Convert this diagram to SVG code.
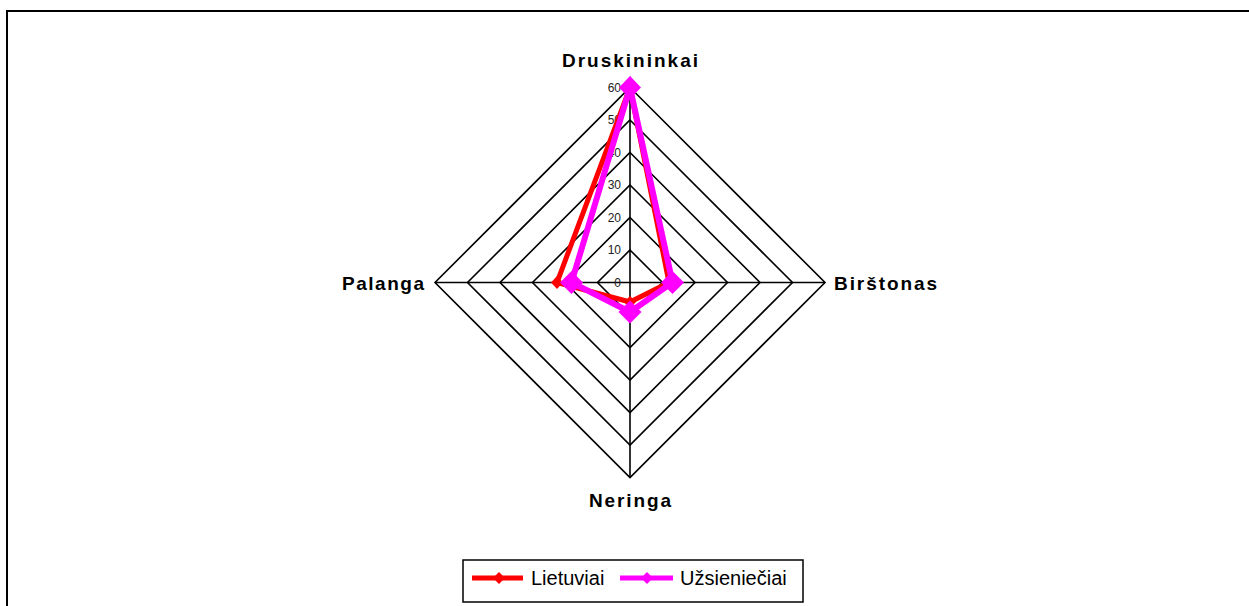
<svg xmlns="http://www.w3.org/2000/svg" width="1249" height="606" viewBox="0 0 1249 606">
<style>
.grid{fill:none;stroke:#000;stroke-width:1.6}
.tick{font-family:"Liberation Sans",Arial,sans-serif;font-size:12px;fill:#222;text-anchor:end}
.cat{font-family:"Liberation Sans",Arial,sans-serif;font-size:19px;font-weight:bold;fill:#000}
.leg{font-family:"Liberation Sans",Arial,sans-serif;font-size:20px;fill:#000}
.red{fill:none;stroke:#ff0000;stroke-width:5;stroke-linejoin:miter}
.mag{fill:none;stroke:#ff00ff;stroke-width:6;stroke-linejoin:miter}
</style>
<rect width="1249" height="606" fill="#fff"/>
<path d="M7,606 V11 H1249" fill="none" stroke="#000" stroke-width="2"/>
<g id="grid">
<polygon class="grid" points="630,87.5 825,282.5 630,477.5 435,282.5"/>
<polygon class="grid" points="630,120 792.5,282.5 630,445 467.5,282.5"/>
<polygon class="grid" points="630,152.5 760,282.5 630,412.5 500,282.5"/>
<polygon class="grid" points="630,185 727.5,282.5 630,380 532.5,282.5"/>
<polygon class="grid" points="630,217.5 695,282.5 630,347.5 565,282.5"/>
<polygon class="grid" points="630,250 662.5,282.5 630,315 597.5,282.5"/>
<path class="grid" d="M630,87.5 V477.5 M435,282.5 H825"/>
</g>
<g id="ticks">
<text class="tick" x="621" y="91.5">60</text>
<text class="tick" x="621" y="124">50</text>
<text class="tick" x="621" y="156.5">40</text>
<text class="tick" x="621" y="189">30</text>
<text class="tick" x="621" y="221.5">20</text>
<text class="tick" x="621" y="254">10</text>
<text class="tick" x="621" y="286.5">0</text>
</g>
<g id="labels">
<text id="druskininkai" class="cat" x="562" y="67" textLength="136" lengthAdjust="spacing">Druskininkai</text>
<text id="birstonas" class="cat" x="834" y="290" textLength="103" lengthAdjust="spacing">Birštonas</text>
<text id="neringa" class="cat" x="589" y="507" textLength="82" lengthAdjust="spacing">Neringa</text>
<text id="palanga" class="cat" x="342" y="290" textLength="82" lengthAdjust="spacing">Palanga</text>
</g>
<g id="connectors">
<polygon class="red" points="630,87.5 669,282.5 630,302 557,282.5"/>
<g fill="#ff0000">
<polygon points="630,81 636,87.5 630,94 624,87.5"/>
<polygon points="669,276 675,282.5 669,289 663,282.5"/>
<polygon points="630,296 636,302 630,308 624,302"/>
<polygon points="557,276 563,282.5 557,289 551,282.5"/>
</g>
<polygon class="mag" points="630,87.5 672.5,282.5 630,312 571.5,282.5"/>
<g fill="#ff00ff">
<polygon points="630,76 641,87.5 630,99 619,87.5"/>
<polygon points="672.5,271 684,282.5 672.5,294 661,282.5"/>
<polygon points="630,300.5 641.5,312 630,323.5 618.5,312"/>
<polygon points="571.5,271 583,282.5 571.5,294 560,282.5"/>
</g>
</g>
<g id="legend">
<rect x="463" y="560" width="340" height="42" fill="#fff" stroke="#000" stroke-width="1.5"/>
<line x1="472" y1="578" x2="523" y2="578" stroke="#ff0000" stroke-width="5"/>
<polygon points="499,572 505,578 499,584 493,578" fill="#ff0000"/>
<text class="leg" x="531" y="585">Lietuviai</text>
<line x1="620" y1="578" x2="673" y2="578" stroke="#ff00ff" stroke-width="5"/>
<polygon points="647,572 653,578 647,584 641,578" fill="#ff00ff"/>
<text class="leg" x="680" y="585">Užsieniečiai</text>
</g>
</svg>
